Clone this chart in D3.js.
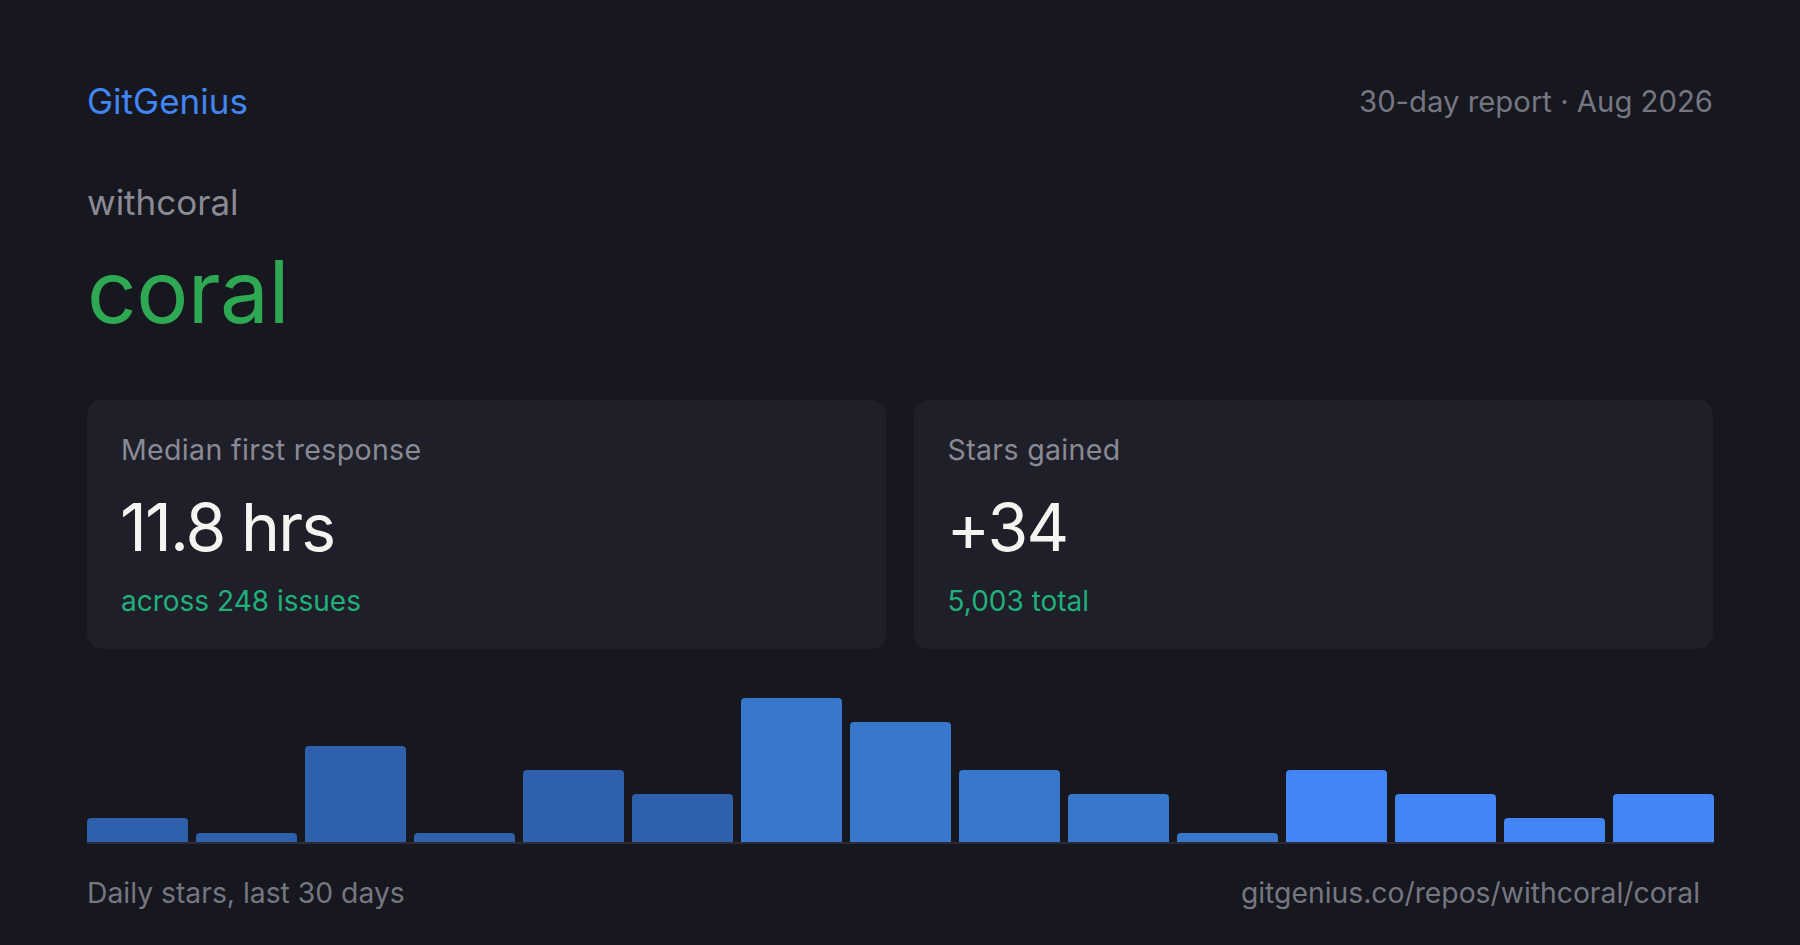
<!DOCTYPE html>
<html>
<head>
<meta charset="utf-8">
<title>GitGenius report</title>
<script src="https://cdn.jsdelivr.net/npm/d3@7"></script>
<style>
  html, body { margin: 0; padding: 0; background: #16171f; }
  svg { display: block; font-family: Inter, "Noto Sans", sans-serif; }
</style>
</head>
<body>
<div id="card"></div>
<script>
// Daily stars, bucketed (15 buckets over the last 30 days)
const dailyStars = [1, 0, 4, 0, 3, 2, 6, 5, 3, 2, 0, 3, 2, 1, 2];

const statLabels = ['Median first response', 'Stars gained'];
const statValues = ['11.8 hrs', '+34'];
const statNotes = ['across 248 issues', '5,003 total'];

const brand = 'GitGenius';
const reportTitle = '30-day report · Aug 2026';
const owner = 'withcoral';
const repo = 'coral';
const chartCaption = 'Daily stars, last 30 days';
const repoUrl = 'gitgenius.co/repos/withcoral/coral';

class RepoReport {
  constructor(containerId) {
    this.container = document.getElementById(containerId);
    this.width = 1800;
    this.height = 945;
    this.pad = 87;

    this.colors = {
      bg: '#16171f',
      panel: '#1f1f2a',
      brand: '#4285f4',
      muted: '#8a8a94',
      faint: '#767680',
      repo: '#2ea853',
      value: '#f4f4f0',
      note: '#20b07c',
      axis: '#2a2b37',
      bars: ['#2f60ac', '#3778cc', '#4285f4']
    };

    this.init();
  }

  init() {
    this.svg = d3.select(this.container)
      .append('svg')
      .attr('width', this.width)
      .attr('height', this.height);

    this.svg.append('rect')
      .attr('width', this.width)
      .attr('height', this.height)
      .attr('fill', this.colors.bg);

    this.drawHeader();
    this.drawStats();
    this.drawBars();
    this.drawFooter();
  }

  drawHeader() {
    const right = this.width - this.pad;

    this.svg.append('text')
      .attr('x', this.pad)
      .attr('y', 114)
      .attr('font-size', 35)
      .attr('fill', this.colors.brand)
      .text(brand);

    this.svg.append('text')
      .attr('x', right)
      .attr('y', 112)
      .attr('text-anchor', 'end')
      .attr('font-size', 29.3)
      .attr('fill', this.colors.faint)
      .text(reportTitle);

    this.svg.append('text')
      .attr('x', this.pad)
      .attr('y', 215)
      .attr('font-size', 35)
      .attr('fill', this.colors.muted)
      .text(owner);

    this.svg.append('text')
      .attr('x', this.pad)
      .attr('y', 323)
      .attr('font-size', 87)
      .attr('letter-spacing', -0.5)
      .attr('fill', this.colors.repo)
      .text(repo);
  }

  drawStats() {
    const x = d3.scaleBand()
      .domain(d3.range(statLabels.length))
      .range([this.pad, this.width - this.pad])
      .paddingInner(27 / 826);

    const cards = this.svg.append('g')
      .attr('class', 'stats')
      .selectAll('g')
      .data(statLabels)
      .enter()
      .append('g')
      .attr('transform', (d, i) => `translate(${x(i)},400)`);

    cards.append('rect')
      .attr('width', x.bandwidth())
      .attr('height', 249)
      .attr('rx', 15)
      .attr('fill', this.colors.panel);

    cards.append('text')
      .attr('x', 34)
      .attr('y', 60)
      .attr('font-size', 28.5)
      .attr('letter-spacing', 0.35)
      .attr('fill', this.colors.muted)
      .text(d => d);

    cards.append('text')
      .attr('x', 33)
      .attr('y', 151)
      .attr('font-size', 66)
      .attr('letter-spacing', -1.9)
      .attr('fill', this.colors.value)
      .text((d, i) => statValues[i]);

    cards.append('text')
      .attr('x', 34)
      .attr('y', 211)
      .attr('font-size', 28)
      .attr('fill', this.colors.note)
      .text((d, i) => statNotes[i]);
  }

  drawBars() {
    const base = 842;
    const x = d3.scaleBand()
      .domain(d3.range(dailyStars.length))
      .range([this.pad, this.width - this.pad + 1])
      .paddingInner(8 / 109);

    const y = d3.scaleLinear()
      .domain([0, d3.max(dailyStars)])
      .range([base, 698]);

    // bars tint in three steps, older → newer
    const tone = i => i < 6 ? 0 : (i < 11 ? 1 : 2);
    const minH = 9;
    const r = 4;

    const topRounded = (x0, w, top) => {
      const h = base - top;
      const rr = Math.min(r, h / 2, w / 2);
      return `M${x0},${base}V${top + rr}Q${x0},${top} ${x0 + rr},${top}` +
        `H${x0 + w - rr}Q${x0 + w},${top} ${x0 + w},${top + rr}V${base}Z`;
    };

    this.svg.append('g')
      .attr('class', 'bars')
      .selectAll('path')
      .data(dailyStars)
      .enter()
      .append('path')
      .attr('fill', (d, i) => this.colors.bars[tone(i)])
      .attr('d', (d, i) => topRounded(x(i), x.bandwidth(), Math.min(y(d), base - minH)));

    this.svg.append('rect')
      .attr('x', this.pad)
      .attr('y', base)
      .attr('width', this.width - 2 * this.pad + 1)
      .attr('height', 2)
      .attr('fill', this.colors.axis);
  }

  drawFooter() {
    this.svg.append('text')
      .attr('x', this.pad)
      .attr('y', 903)
      .attr('font-size', 28.3)
      .attr('fill', this.colors.faint)
      .text(chartCaption);

    this.svg.append('text')
      .attr('x', 1700)
      .attr('y', 903)
      .attr('text-anchor', 'end')
      .attr('font-size', 28.3)
      .attr('fill', this.colors.faint)
      .text(repoUrl);
  }
}

window.report = new RepoReport('card');
</script>
</body>
</html>
